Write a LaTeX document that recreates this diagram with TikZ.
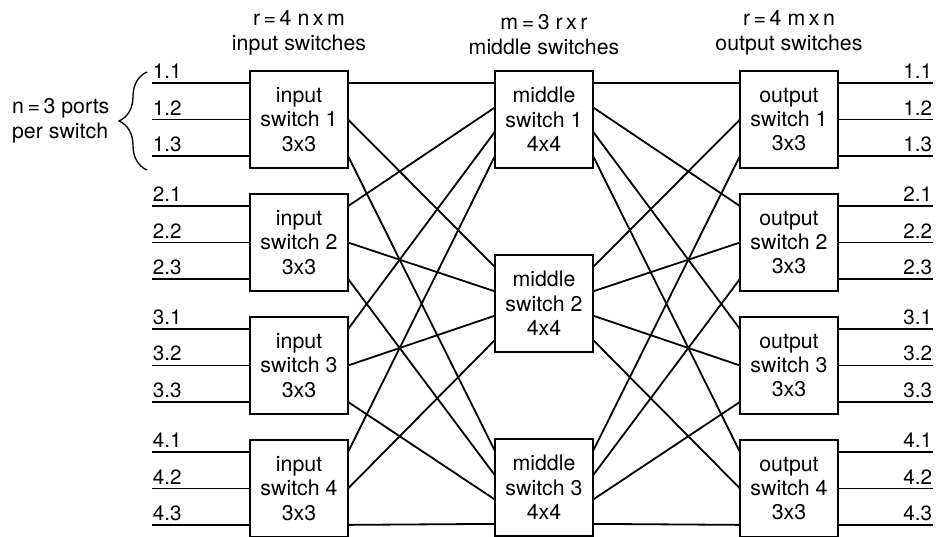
\documentclass[tikz,border=0pt]{standalone}
\usepackage{fontspec}
\setmainfont{TeX Gyre Heros}
\usetikzlibrary{positioning,calc,decorations.pathreplacing}

\begin{document}
\begin{tikzpicture}[x=0.75pt, y=-0.75pt,
    switch/.style={draw, line width=2.2pt, minimum width=73.5pt, minimum height=72.75pt, outer sep=0pt, inner sep=0pt, align=center, font=\fontsize{16}{18.3}\selectfont},
    wire/.style={line width=1.35pt},
    port/.style={inner xsep=0.5pt, inner ysep=3pt, font=\fontsize{15.5}{18}\selectfont},
    heading/.style={align=center, inner sep=0pt, font=\fontsize{16}{18.8}\selectfont}
]
\useasboundingbox (0,0) rectangle (938,536);

% first stage
\node[switch] (in1) at (299,119.5) {input\\switch 1\\3x3};
\node[switch, below=19.5pt of in1] (in2) {input\\switch 2\\3x3};
\node[switch, below=19.5pt of in2] (in3) {input\\switch 3\\3x3};
\node[switch, below=19.5pt of in3] (in4) {input\\switch 4\\3x3};

% middle stage
\node[switch, right=110.25pt of in1] (mid1) {middle\\switch 1\\4x4};
\node[switch, below=65.25pt of mid1] (mid2) {middle\\switch 2\\4x4};
\node[switch, below=65.25pt of mid2] (mid3) {middle\\switch 3\\4x4};

% last stage
\node[switch, right=110.25pt of mid1] (out1) {output\\switch 1\\3x3};
\node[switch, below=19.5pt of out1] (out2) {output\\switch 2\\3x3};
\node[switch, below=19.5pt of out2] (out3) {output\\switch 3\\3x3};
\node[switch, below=19.5pt of out3] (out4) {output\\switch 4\\3x3};

% column titles
\node[heading, above=12pt of in1] (inhead) {r\,=\,4 n\,x\,m\\input switches};
\node[heading, above=12pt of mid1] (midhead) {m\,=\,3 r\,x\,r\\middle switches};
\node[heading, above=12pt of out1] (outhead) {r\,=\,4 m\,x\,n\\output switches};

% port points on the box sides
\foreach \s in {1,...,4}
  \foreach \p/\f in {1/.125,2/.5,3/.875} {
    \coordinate (in\s-w\p) at ($(in\s.north west)!\f!(in\s.south west)$);
    \coordinate (in\s-e\p) at ($(in\s.north east)!\f!(in\s.south east)$);
    \coordinate (out\s-w\p) at ($(out\s.north west)!\f!(out\s.south west)$);
    \coordinate (out\s-e\p) at ($(out\s.north east)!\f!(out\s.south east)$);
  }
\foreach \s in {1,2,3}
  \foreach \p/\f in {1/.125,2/.375,3/.625,4/.875} {
    \coordinate (mid\s-w\p) at ($(mid\s.north west)!\f!(mid\s.south west)$);
    \coordinate (mid\s-e\p) at ($(mid\s.north east)!\f!(mid\s.south east)$);
  }

% links between the stages
\foreach \i in {1,...,4}
  \foreach \j in {1,2,3} {
    \draw[wire] (in\i-e\j) -- (mid\j-w\i);
    \draw[wire] (mid\j-e\i) -- (out\i-w\j);
  }

% outside ports
\foreach \i in {1,...,4}
  \foreach \j in {1,2,3} {
    \coordinate (src\i\j) at ([xshift=-73.5pt]in\i-w\j);
    \coordinate (dst\i\j) at ([xshift=71.25pt]out\i-e\j);
    \draw[wire] (src\i\j) -- (in\i-w\j);
    \draw[wire] (out\i-e\j) -- (dst\i\j);
    \node[port, above right] (pin\i\j) at (src\i\j) {\i.\j};
    \node[port, above left] (pout\i\j) at (dst\i\j) {\i.\j};
  }

% brace over the ports of the first switch
\coordinate (bracetop) at (147,72);
\coordinate (bracebot) at (147,170);
\draw[line width=1pt, decorate, decoration={brace, amplitude=21pt}] (bracebot) -- (bracetop);
\node[heading, align=left, left=28pt of $(bracetop)!.5!(bracebot)$] (nports) {n\,=\,3 ports\\per switch};
\end{tikzpicture}
\end{document}
